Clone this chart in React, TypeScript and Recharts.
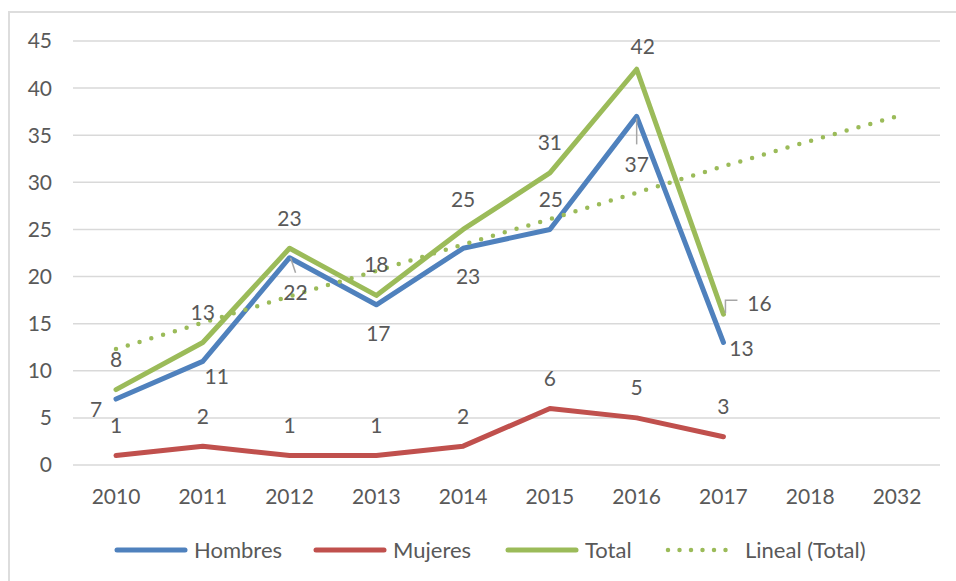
import React from 'react';
import { LineChart, Line, XAxis, YAxis, CartesianGrid, LabelList } from 'recharts';

const categories = ['2010', '2011', '2012', '2013', '2014', '2015', '2016', '2017', '2018', '2032'];
const hombres: (number | null)[] = [7, 11, 22, 17, 23, 25, 37, 13, null, null];
const mujeres: (number | null)[] = [1, 2, 1, 1, 2, 6, 5, 3, null, null];
const total: (number | null)[] = [8, 13, 23, 18, 25, 31, 42, 16, null, null];
const lineal: number[] = [12.3, 15.1, 17.9, 20.6, 23.4, 26.1, 28.9, 31.7, 34.4, 37.0];
const yTicks = [0, 5, 10, 15, 20, 25, 30, 35, 40, 45];

const data = categories.map((c, i) => ({
  year: c,
  Hombres: hombres[i],
  Mujeres: mujeres[i],
  Total: total[i],
  Lineal: lineal[i],
}));

const BLUE = '#4F81BD';
const RED = '#C0504D';
const GREEN = '#9BBB59';
const TEXT = '#595959';
const FONT = 'Lato, "Open Sans", sans-serif';
const FS = 21;
const LEGEND_FS = 22;

// label placement (style): offsets of the label centre relative to its point
const totalOffsets = [[0, -31], [0, -31], [0, -31], [0, -32], [0, -31], [0, -31], [6, -24], [36, -12]];
const hombresOffsets = [[-20, 9], [14, 14], [6, 34], [2, 28], [5, 27], [1, -31], [0, 47], [18, 5]];
const mujeresOffsets = [[0, -31], [0, -31], [0, -31], [0, -31], [0, -31], [0, -31], [0, -31], [0, -31]];

const makeLabel = (offsets: number[][], leaders: Record<number, (x: number, y: number) => string>) =>
  (props: any) => {
    const { x, y, value, index } = props;
    if (value === null || value === undefined || x == null || y == null) return null;
    const off = offsets[index] || [0, -31];
    const leader = leaders[index];
    return (
      <g>
        {leader && <path d={leader(x, y)} stroke="#A6A6A6" strokeWidth={1.5} fill="none" />}
        <text
          x={x + off[0]}
          y={y + off[1]}
          textAnchor="middle"
          dominantBaseline="central"
          fill={TEXT}
          fontSize={FS}
          fontFamily={FONT}
        >
          {value}
        </text>
      </g>
    );
  };

const hombresLeaders: Record<number, (x: number, y: number) => string> = {
  2: (x, y) => `M${x + 1},${y} L${x + 6},${y + 15}`,
  6: (x, y) => `M${x},${y + 2} L${x},${y + 28}`,
};
const totalLeaders: Record<number, (x: number, y: number) => string> = {
  7: (x, y) => `M${x + 2},${y - 1} L${x + 2},${y - 14} L${x + 14},${y - 14}`,
};

const legendItems = [
  { name: 'Hombres', color: BLUE, dotted: false, left: 113 },
  { name: 'Mujeres', color: RED, dotted: false, left: 312 },
  { name: 'Total', color: GREEN, dotted: false, left: 504 },
  { name: 'Lineal (Total)', color: GREEN, dotted: true, left: 664 },
];

export default function App() {
  return (
    <div style={{ position: 'absolute', left: 0, top: 0, width: 956, height: 581, background: '#fff', overflow: 'hidden' }}>
      <div
        style={{
          position: 'absolute',
          left: 8,
          top: 11,
          width: 960,
          height: 600,
          border: '2px solid #DDDDDD',
          boxSizing: 'border-box',
        }}
      />
      <div style={{ position: 'absolute', left: 0, top: 0 }}>
        <LineChart
          width={956}
          height={581}
          data={data}
          margin={{ top: 41, right: 16, bottom: 86, left: 0 }}
        >
          <CartesianGrid vertical={false} stroke="#D9D9D9" strokeWidth={1.5} />
          <XAxis
            dataKey="year"
            axisLine={false}
            tickLine={false}
            tickSize={0}
            tickMargin={24}
            height={30}
            padding={{ left: 43, right: 43 }}
            tick={{ fill: TEXT, fontSize: FS, fontFamily: FONT }}
            interval={0}
          />
          <YAxis
            domain={[0, 45]}
            ticks={yTicks}
            axisLine={false}
            tickLine={false}
            tickSize={0}
            tickMargin={21}
            width={73}
            tick={{ fill: TEXT, fontSize: FS, fontFamily: FONT }}
            interval={0}
          />
          <Line
            dataKey="Hombres"
            stroke={BLUE}
            strokeWidth={5}
            dot={false}
            strokeLinejoin="round"
            strokeLinecap="round"
            isAnimationActive={false}
          >
            <LabelList dataKey="Hombres" content={makeLabel(hombresOffsets, hombresLeaders)} />
          </Line>
          <Line
            dataKey="Mujeres"
            stroke={RED}
            strokeWidth={5}
            dot={false}
            strokeLinejoin="round"
            strokeLinecap="round"
            isAnimationActive={false}
          >
            <LabelList dataKey="Mujeres" content={makeLabel(mujeresOffsets, {})} />
          </Line>
          <Line
            dataKey="Total"
            stroke={GREEN}
            strokeWidth={5}
            dot={false}
            strokeLinejoin="round"
            strokeLinecap="round"
            isAnimationActive={false}
          >
            <LabelList dataKey="Total" content={makeLabel(totalOffsets, totalLeaders)} />
          </Line>
          <Line
            dataKey="Lineal"
            stroke={GREEN}
            strokeWidth={4.5}
            strokeDasharray="0 12.3"
            strokeLinecap="round"
            dot={false}
            isAnimationActive={false}
          />
        </LineChart>
      </div>
      {legendItems.map((it) => (
        <div
          key={it.name}
          style={{
            position: 'absolute',
            left: it.left,
            top: 536,
            display: 'flex',
            alignItems: 'center',
            gap: 5,
            fontFamily: FONT,
            fontSize: LEGEND_FS,
            color: TEXT,
            whiteSpace: 'nowrap',
            lineHeight: '28px',
          }}
        >
          <svg width={76} height={12}>
            <line
              x1={4}
              y1={6}
              x2={72}
              y2={6}
              stroke={it.color}
              strokeWidth={it.dotted ? 4.5 : 5}
              strokeLinecap="round"
              strokeDasharray={it.dotted ? '0 11.5' : undefined}
            />
          </svg>
          <span>{it.name}</span>
        </div>
      ))}
    </div>
  );
}
